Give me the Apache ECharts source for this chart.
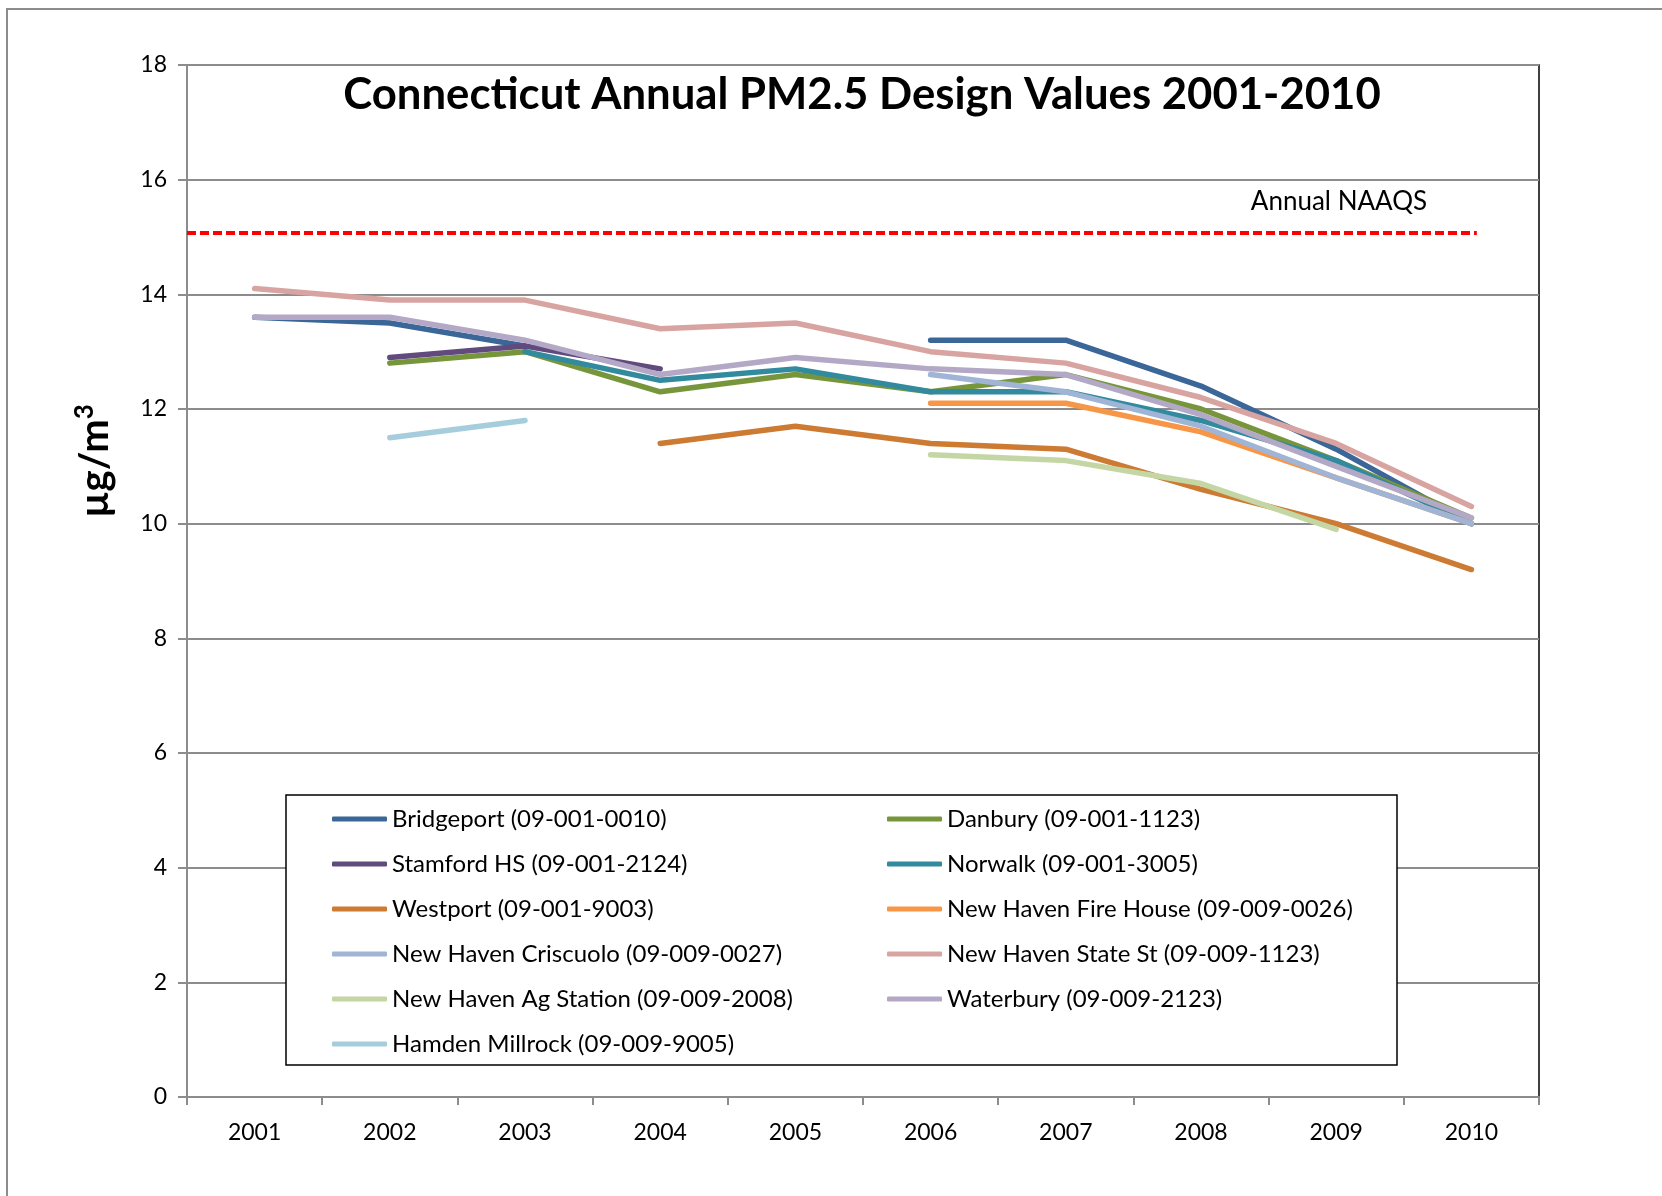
<!DOCTYPE html>
<html>
<head>
<meta charset="utf-8">
<script src="https://cdn.jsdelivr.net/npm/echarts@6/dist/echarts.min.js"></script>
<style>
  html, body { margin: 0; padding: 0; background: #fff; }
  #main { width: 1662px; height: 1196px; }
</style>
</head>
<body>
<div id="main"></div>
<script>
// categories
var years = ['2001','2002','2003','2004','2005','2006','2007','2008','2009','2010'];

// site series (ug/m3), null = no design value
var bridgeport = [13.6, 13.5, 13.1, null, null, 13.2, 13.2, 12.4, 11.3, 10.0];
var danbury    = [null, 12.8, 13.0, 12.3, 12.6, 12.3, 12.6, 12.0, 11.1, 10.1];
var stamford   = [null, 12.9, 13.1, 12.7, null, null, null, null, null, null];
var norwalk    = [null, null, 13.0, 12.5, 12.7, 12.3, 12.3, 11.8, 11.1, 10.0];
var westport   = [null, null, null, 11.4, 11.7, 11.4, 11.3, 10.6, 10.0, 9.2];
var fireHouse  = [null, null, null, null, null, 12.1, 12.1, 11.6, 10.8, 10.0];
var criscuolo  = [null, null, null, null, null, 12.6, 12.3, 11.7, 10.8, 10.0];
var stateSt    = [14.1, 13.9, 13.9, 13.4, 13.5, 13.0, 12.8, 12.2, 11.4, 10.3];
var agStation  = [null, null, null, null, null, 11.2, 11.1, 10.7, 9.9, null];
var waterbury  = [13.6, 13.6, 13.2, 12.6, 12.9, 12.7, 12.6, 11.9, 11.0, 10.1];
var hamden     = [null, 11.5, 11.8, null, null, null, null, null, null, null];

// annual NAAQS reference line (x in category units)
var naaqsLevel = 15.07;
var naaqsX = [0.5, 10.04];

var yTicks = { min: 0, max: 18, step: 2 };

var sites = [
  { name: 'Bridgeport (09-001-0010)', data: bridgeport, color: '#3b6698' },
  { name: 'Danbury (09-001-1123)', data: danbury, color: '#77953b' },
  { name: 'Stamford HS (09-001-2124)', data: stamford, color: '#614a7d' },
  { name: 'Norwalk (09-001-3005)', data: norwalk, color: '#328a9e' },
  { name: 'Westport (09-001-9003)', data: westport, color: '#cd7a33' },
  { name: 'New Haven Fire House (09-009-0026)', data: fireHouse, color: '#f79646' },
  { name: 'New Haven Criscuolo (09-009-0027)', data: criscuolo, color: '#a0b4d6' },
  { name: 'New Haven State St (09-009-1123)', data: stateSt, color: '#d8a4a2' },
  { name: 'New Haven Ag Station (09-009-2008)', data: agStation, color: '#c3d6a4' },
  { name: 'Waterbury (09-009-2123)', data: waterbury, color: '#b3a8c6' },
  { name: 'Hamden Millrock (09-009-9005)', data: hamden, color: '#a5cddb' }
];

var leftCol = [0, 2, 4, 6, 8, 10].map(function (i) { return sites[i].name; });
var rightCol = [1, 3, 5, 7, 9].map(function (i) { return sites[i].name; });

var FONT = 'Lato, "Open Sans", sans-serif';

var series = sites.map(function (s) {
  return {
    name: s.name,
    type: 'line',
    data: s.data,
    symbol: 'none',
    connectNulls: false,
    color: s.color,
    lineStyle: { width: 5.5, color: s.color, cap: 'round', join: 'round' },
    emphasis: { disabled: true },
    z: 3
  };
});

series.push({
  name: 'Annual NAAQS',
  type: 'line',
  xAxisIndex: 1,
  data: naaqsX.map(function (x) { return [x, naaqsLevel]; }),
  symbol: 'none',
  lineStyle: { width: 4, color: '#ff0000', type: [9, 4], cap: 'butt' },
  z: 4
});

var legendBase = {
  orient: 'vertical',
  top: 801,
  icon: 'roundRect',
  itemWidth: 55,
  itemHeight: 5,
  itemGap: 19,
  selectedMode: false,
  textStyle: { fontFamily: FONT, fontSize: 24, lineHeight: 26, color: '#000' },
  z: 10
};

var chart = echarts.init(document.getElementById('main'));
chart.setOption({
  animation: false,
  backgroundColor: '#fff',
  grid: {
    left: 187, right: 123, top: 65, bottom: 99,
    show: true, borderColor: '#000', borderWidth: 1.5, backgroundColor: 'transparent'
  },
  legend: [
    Object.assign({}, legendBase, { left: 327, data: leftCol }),
    Object.assign({}, legendBase, { left: 882, data: rightCol })
  ],
  xAxis: [{
    type: 'category',
    data: years,
    boundaryGap: true,
    axisLine: { lineStyle: { color: '#8c8c8c', width: 2 } },
    axisTick: { show: true, interval: 0, length: 8, lineStyle: { color: '#8c8c8c', width: 2 } },
    axisLabel: { fontFamily: FONT, fontSize: 23, color: '#000', margin: 24 },
    splitLine: { show: false }
  }, {
    type: 'value',
    min: 0.5,
    max: 10.5,
    show: false
  }],
  yAxis: {
    type: 'value',
    min: yTicks.min,
    max: yTicks.max,
    interval: yTicks.step,
    axisLine: { show: true, lineStyle: { color: '#8c8c8c', width: 2 } },
    axisTick: { show: true, length: 9, lineStyle: { color: '#8c8c8c', width: 2 } },
    axisLabel: { fontFamily: FONT, fontSize: 23, color: '#000', margin: 20 },
    splitLine: { show: true, lineStyle: { color: '#8c8c8c', width: 2 } }
  },
  graphic: [
    {
      type: 'rect', silent: true, z: -10,
      shape: { x: 7, y: 9, width: 1800, height: 1400 },
      style: { fill: 'none', stroke: '#8c8c8c', lineWidth: 2 }
    },
    {
      type: 'rect', silent: true, z: 5,
      shape: { x: 286, y: 795, width: 1111, height: 270 },
      style: { fill: '#fff', stroke: '#000', lineWidth: 1.5 }
    },
    {
      type: 'text', silent: true, z: 6,
      x: 862, y: 95,
      style: {
        text: 'Connecticut Annual PM2.5 Design Values 2001-2010',
        fontFamily: FONT, fontSize: 43.7, fontWeight: 'bold', fill: '#000',
        align: 'center', verticalAlign: 'middle'
      }
    },
    {
      type: 'text', silent: true, z: 6,
      x: 1339, y: 202,
      style: {
        text: 'Annual NAAQS',
        fontFamily: FONT, fontSize: 26, fill: '#000',
        align: 'center', verticalAlign: 'middle'
      }
    },
    {
      type: 'text', silent: true, z: 6,
      x: 95, y: 461, rotation: Math.PI / 2,
      style: {
        text: '{a|µg/m}{b|3}',
        align: 'center', verticalAlign: 'middle',
        rich: {
          a: { fontFamily: FONT, fontSize: 40, fontWeight: 'bold', fill: '#000', lineHeight: 46 },
          b: { fontFamily: FONT, fontSize: 26, fontWeight: 'bold', fill: '#000', lineHeight: 46, verticalAlign: 'top' }
        }
      }
    }
  ],
  series: series
});
</script>
</body>
</html>
